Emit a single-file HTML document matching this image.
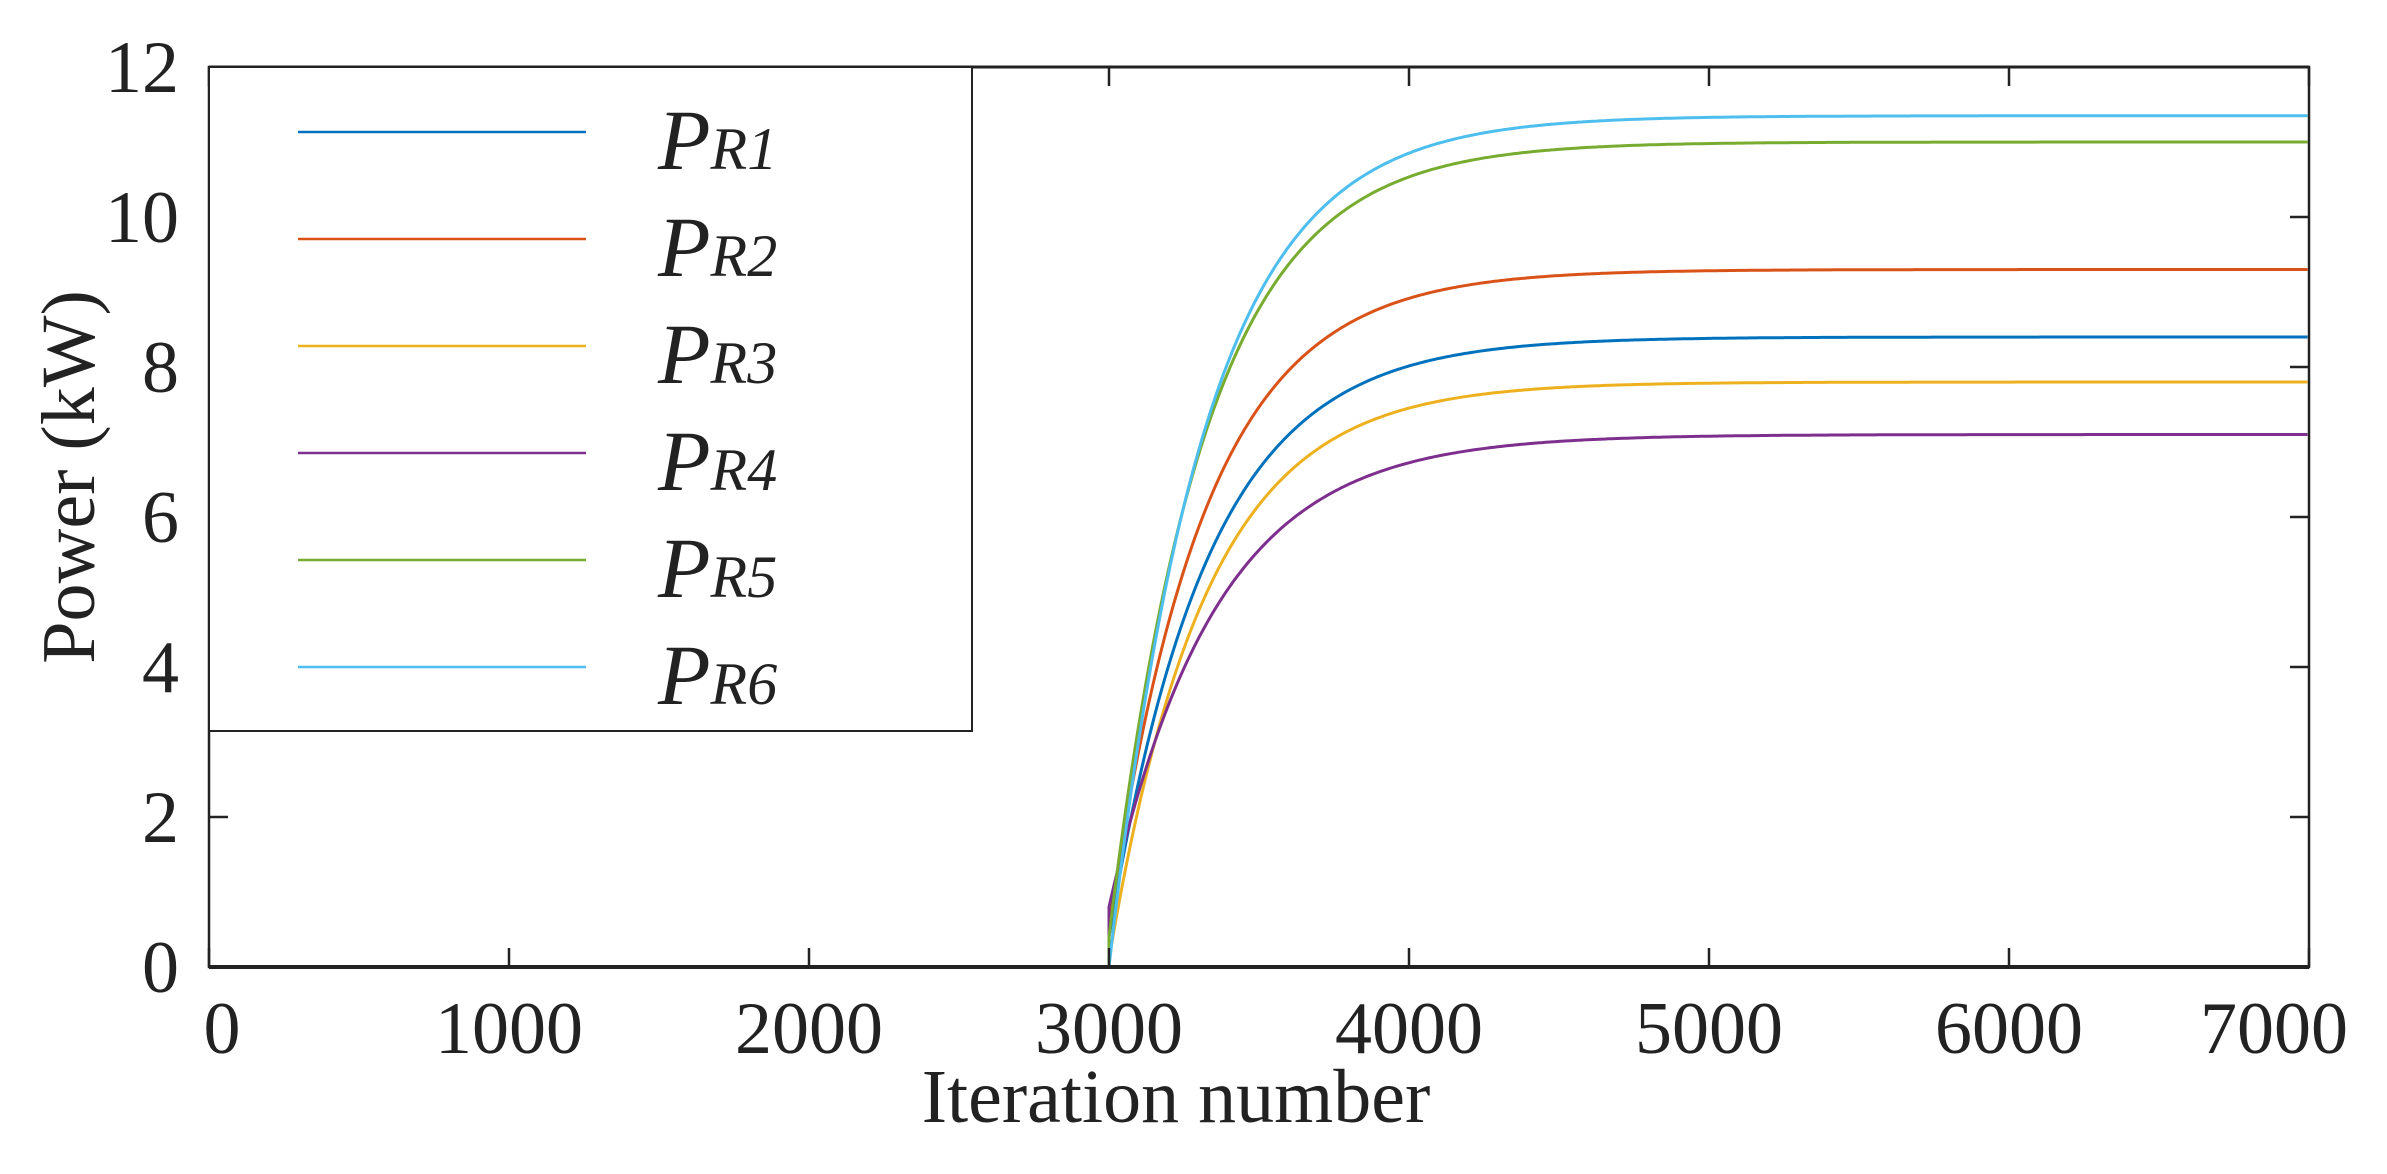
<!DOCTYPE html>
<html><head><meta charset="utf-8"><style>
html,body{margin:0;padding:0;background:#fff;}
svg{display:block;}
text{font-family:"Liberation Serif",serif;fill:#222;}
</style></head><body>
<svg id="s" width="2387" height="1174" viewBox="0 0 2387 1174" xmlns="http://www.w3.org/2000/svg">
<rect width="2387" height="1174" fill="#fff"/>
<g id="curves" fill="none" stroke-width="3"></g>
<rect x="209" y="67" width="2100" height="900" fill="none" stroke="#222" stroke-width="2.5"/>
<line x1="209" y1="967" x2="2309" y2="967" stroke="#222" stroke-width="4"/>
<line x1="209" y1="67" x2="2309" y2="67" stroke="#222" stroke-width="3"/>
<g id="ticks" stroke="#222" stroke-width="2.5"></g>
<g id="labels" font-size="74"></g>
<rect x="209" y="67" width="763" height="664" fill="#fff" stroke="#222" stroke-width="2"/>
<g id="legend"></g>
<text x="1176" y="1122" font-size="76" text-anchor="middle">Iteration number</text>
<text transform="translate(94,477) rotate(-90)" font-size="76" text-anchor="middle">Power (kW)</text>
</svg>
<script>
var ns="http://www.w3.org/2000/svg";
function el(p,t,a,txt){var e=document.createElementNS(ns,t);for(var k in a)e.setAttribute(k,a[k]);if(txt!==undefined)e.textContent=txt;p.appendChild(e);return e;}
function X(v){return 209+v*0.3;}
function Y(v){return 967-v*75;}
var cols=["#0072BD","#D95319","#EDB120","#7E2F8E","#77AC30","#4DBEEE"];
var fin=[8.4,9.3,7.8,7.1,11.0,11.35];
var init=[0.4,0.55,0.1,0.8,0.4,0.0];
var tau=[330,320,323,355,320,320];
var g=document.getElementById("curves");
for(var i=0;i<6;i++){
  var d="M"+X(0)+","+Y(0)+" L"+X(3000)+","+Y(0)+" L"+X(3000)+","+Y(init[i]);
  for(var t=3005;t<=7000;t+=10){
    var v=fin[i]-(fin[i]-init[i])*Math.exp(-(t-3000)/tau[i]);
    d+=" L"+X(t).toFixed(1)+","+Y(v).toFixed(1);
  }
  el(g,"path",{d:d,stroke:cols[i]});
}
var tk=document.getElementById("ticks"),lb=document.getElementById("labels");
for(var k=0;k<=7;k++){
  var x=X(k*1000);
  el(tk,"line",{x1:x,y1:967,x2:x,y2:948});
  el(tk,"line",{x1:x,y1:67,x2:x,y2:86});
  var lx=x; if(k==0)lx=222; if(k==7)lx=2274;
  el(lb,"text",{x:lx,y:1053,"text-anchor":"middle"},String(k*1000));
}
for(var j=0;j<=6;j++){
  var y=Y(j*2);
  el(tk,"line",{x1:209,y1:y,x2:228,y2:y});
  el(tk,"line",{x1:2309,y1:y,x2:2290,y2:y});
  el(lb,"text",{x:179,y:y+25,"text-anchor":"end"},String(j*2));
}
var lg=document.getElementById("legend");
for(var i=0;i<6;i++){
  var y=132+i*107;
  el(lg,"line",{x1:298,y1:y,x2:586,y2:y,stroke:cols[i],"stroke-width":2.5});
  var t=el(lg,"text",{x:658,y:y+37,"font-size":86,"font-style":"italic"});
  el(t,"tspan",{},"P");
  el(t,"tspan",{"font-size":60,dx:0},"R"+(i+1));
}
</script>
</body></html>
